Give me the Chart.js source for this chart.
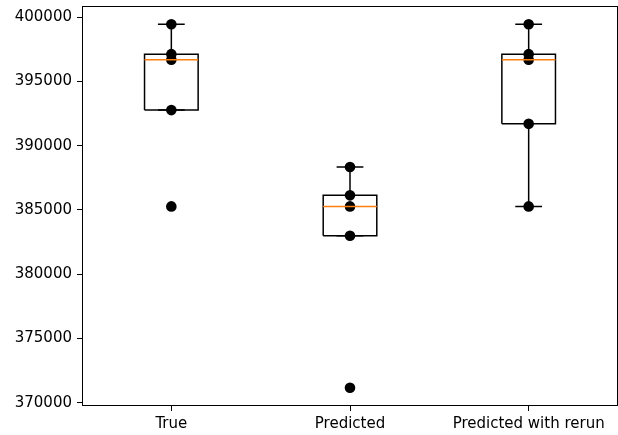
<!DOCTYPE html>
<html>
<head>
<meta charset="utf-8">
<script src="https://cdn.jsdelivr.net/npm/chart.js@4/dist/chart.umd.min.js"></script>
<style>
  html, body { margin: 0; padding: 0; background: #fff; }
  #wrap { width: 618px; height: 435px; }
</style>
</head>
<body>
<div id="wrap"><canvas id="c" width="618" height="435"></canvas></div>
<script>
// ---- data ----
const categories = ["True", "Predicted", "Predicted with rerun"];
const trueValues = [399450, 397120, 396680, 392770, 385280];
const predictedValues = [388340, 386140, 385280, 383000, 371170];
const rerunValues = [399450, 397120, 396680, 391700, 385280];
const yTickValues = [370000, 375000, 380000, 385000, 390000, 395000, 400000];

const seriesList = [trueValues, predictedValues, rerunValues];

// ---- boxplot statistics (matplotlib style: linear percentiles, 1.5 IQR whiskers) ----
function percentile(sorted, p) {
  const idx = (sorted.length - 1) * p;
  const lo = Math.floor(idx), hi = Math.ceil(idx);
  return sorted[lo] + (sorted[hi] - sorted[lo]) * (idx - lo);
}
function boxStats(vals) {
  const s = [...vals].sort((a, b) => a - b);
  const q1 = percentile(s, 0.25), med = percentile(s, 0.5), q3 = percentile(s, 0.75);
  const iqr = q3 - q1;
  const loFence = q1 - 1.5 * iqr, hiFence = q3 + 1.5 * iqr;
  const wlo = Math.min(...s.filter(v => v >= loFence));
  const whi = Math.max(...s.filter(v => v <= hiFence));
  return { q1, med, q3, wlo, whi };
}

const BOX_HALF = 0.15, CAP_HALF = 0.075;
const LINE = { showLine: true, pointRadius: 0, pointHoverRadius: 0, fill: false, borderWidth: 1.5, spanGaps: false };
const datasets = [];

seriesList.forEach((vals, i) => {
  const p = i + 1;
  const st = boxStats(vals);
  // box outline
  datasets.push(Object.assign({}, LINE, {
    order: 1, borderColor: "#000",
    data: [
      { x: p - BOX_HALF, y: st.q1 }, { x: p + BOX_HALF, y: st.q1 },
      { x: p + BOX_HALF, y: st.q3 }, { x: p - BOX_HALF, y: st.q3 },
      { x: p - BOX_HALF, y: st.q1 }
    ]
  }));
  // whiskers and caps
  datasets.push(Object.assign({}, LINE, {
    order: 1, borderColor: "#000",
    data: [
      { x: p, y: st.q1 }, { x: p, y: st.wlo }, { x: p, y: null },
      { x: p - CAP_HALF, y: st.wlo }, { x: p + CAP_HALF, y: st.wlo }, { x: p, y: null },
      { x: p, y: st.q3 }, { x: p, y: st.whi }, { x: p, y: null },
      { x: p - CAP_HALF, y: st.whi }, { x: p + CAP_HALF, y: st.whi }
    ]
  }));
  // median
  datasets.push(Object.assign({}, LINE, {
    order: 0, borderColor: "#ff7f0e",
    data: [{ x: p - BOX_HALF, y: st.med }, { x: p + BOX_HALF, y: st.med }]
  }));
  // raw points (drawn beneath the lines)
  datasets.push({
    order: 5, showLine: false, pointRadius: 5.3, pointHoverRadius: 5.3,
    backgroundColor: "#000", borderWidth: 0,
    data: vals.map(v => ({ x: p, y: v }))
  });
});

// y range: data limits with 5% margin
const allVals = seriesList.flat();
const dMin = Math.min(...allVals), dMax = Math.max(...allVals);
const margin = (dMax - dMin) * 0.05;

const framePlugin = {
  id: "frame",
  afterDatasetsDraw(chart) {
    const a = chart.chartArea, ctx = chart.ctx;
    ctx.save();
    ctx.strokeStyle = "#000";
    ctx.lineWidth = 1;
    ctx.strokeRect(Math.round(a.left) + 0.5, Math.round(a.top) + 0.5,
                   Math.round(a.right - a.left) - 1, Math.round(a.bottom - a.top) - 1);
    ctx.restore();
  }
};

const tickFont = { family: "'DejaVu Sans', sans-serif", size: 15 };

new Chart(document.getElementById("c"), {
  type: "scatter",
  data: { datasets },
  options: {
    responsive: false,
    devicePixelRatio: 1,
    animation: false,
    events: [],
    layout: { autoPadding: false, padding: { top: 6, right: 0, left: 0, bottom: 0 } },
    plugins: { legend: { display: false }, tooltip: { enabled: false } },
    scales: {
      x: {
        type: "linear", min: 0.5, max: 3.5,
        afterBuildTicks: s => { s.ticks = categories.map((c, i) => ({ value: i + 1 })); },
        afterFit: s => { s.height = 29; s.paddingLeft = 0; s.paddingRight = 0; },
        ticks: {
          color: "#000", font: tickFont, padding: 4, maxRotation: 0, autoSkip: false,
          callback: v => categories[Math.round(v) - 1]
        },
        grid: { display: true, drawOnChartArea: false, drawTicks: true, tickLength: 5, tickColor: "#000", lineWidth: 1 },
        border: { display: false }
      },
      y: {
        type: "linear", min: dMin - margin, max: dMax + margin,
        afterBuildTicks: s => { s.ticks = yTickValues.map(v => ({ value: v })); },
        afterFit: s => { s.width = 82; s.paddingTop = 0; s.paddingBottom = 0; },
        ticks: { color: "#000", font: tickFont, padding: 5, callback: v => String(v) },
        grid: { display: true, drawOnChartArea: false, drawTicks: true, tickLength: 5, tickColor: "#000", lineWidth: 1 },
        border: { display: false }
      }
    }
  },
  plugins: [framePlugin]
});
</script>
</body>
</html>
